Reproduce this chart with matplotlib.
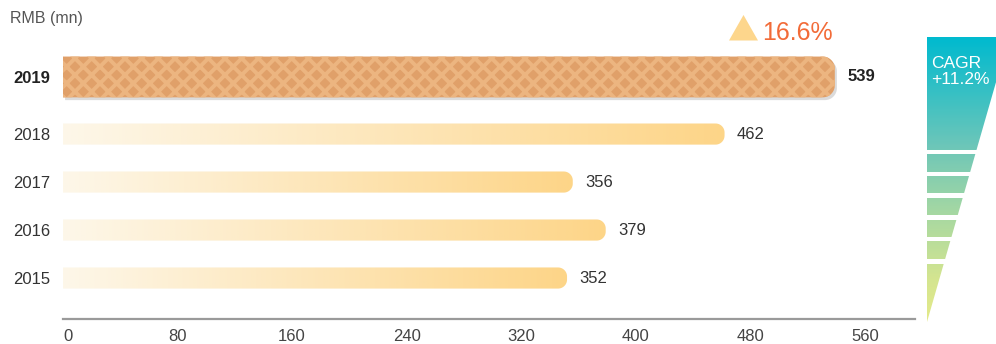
import numpy as np
import matplotlib
matplotlib.use('Agg')
import matplotlib.pyplot as plt
from matplotlib.path import Path
from matplotlib.patches import PathPatch, Polygon
from matplotlib.colors import LinearSegmentedColormap
from matplotlib.transforms import ScaledTranslation

# data
years = ['2015', '2016', '2017', '2018', '2019']
values = [352, 379, 356, 462, 539]
xticks = [0, 80, 160, 240, 320, 400, 480, 560]
unit_label = 'RMB (mn)'
growth_label = '16.6%'
cagr_label = 'CAGR\n+11.2%'

plt.rcParams['font.family'] = ['Liberation Sans', 'DejaVu Sans']
plt.rcParams['hatch.linewidth'] = 2.8

W, H = 996, 344
fig = plt.figure(figsize=(W / 100, H / 100), dpi=100)

# main axes placed in pixel terms
ax_l, ax_r, ax_t, ax_b = 63, 915, 40, 319
ax = fig.add_axes([ax_l / W, (H - ax_b) / H, (ax_r - ax_l) / W, (ax_b - ax_t) / H])
xmax = 595
ylo, yhi = -0.854, 4.96
ypos = [0, 1, 2, 3, 4.19]
heights = [0.44, 0.44, 0.44, 0.44, 0.85]
radii = [9, 9, 9, 9, 12]

px_x = (ax_r - ax_l) / xmax
px_y = (ax_b - ax_t) / (yhi - ylo)


def bar_path(y, w, h, r):
    # square left end, rounded right end (radius given in pixels)
    rx, ry = r / px_x, r / px_y
    y0, y1 = y - h / 2, y + h / 2
    br = [(w - rx + rx * np.cos(a), y0 + ry + ry * np.sin(a))
          for a in np.linspace(-np.pi / 2, 0, 20)]
    tr = [(w - rx + rx * np.cos(a), y1 - ry + ry * np.sin(a))
          for a in np.linspace(0, np.pi / 2, 20)]
    pts = [(0, y0)] + br + tr + [(0, y1), (0, y0)]
    return Path(pts, closed=True)


cream = LinearSegmentedColormap.from_list('cream', ['#FDF7E9', '#FDD588'])

for i, (yr, v) in enumerate(zip(years, values)):
    y, h = ypos[i], heights[i]
    path = bar_path(y, v, h, radii[i])
    if yr == '2019':
        shadow = PathPatch(path, fc='#8a8a8a', ec='none', alpha=0.3, zorder=2,
                           transform=ax.transData + ScaledTranslation(1.5 / 72, -2.0 / 72, fig.dpi_scale_trans))
        ax.add_patch(shadow)
        waffle = PathPatch(path, fc='#E0A069', ec='#ECB580', lw=0, hatch='xx', zorder=3)
        ax.add_patch(waffle)
        ax.annotate(str(v), (v, y), xytext=(9, 0), textcoords='offset points',
                    va='center', ha='left', fontsize=12, color='#222222', fontweight='bold')
    else:
        clip = PathPatch(path, fc='none', ec='none')
        ax.add_patch(clip)
        im = ax.imshow(np.linspace(0, 1, 256)[None, :], cmap=cream, aspect='auto',
                       extent=(0, v, y - h / 2, y + h / 2), zorder=2)
        im.set_clip_path(clip)
        ax.annotate(str(v), (v, y), xytext=(9, 0), textcoords='offset points',
                    va='center', ha='left', fontsize=12, color='#333333')

ax.set_xlim(0, xmax)
ax.set_ylim(ylo, yhi)
ax.set_yticks(ypos, labels=years)
ax.set_xticks(xticks)
ax.tick_params(axis='y', length=0, pad=9.5, labelsize=12, colors='#333333')
ax.tick_params(axis='x', length=0, pad=7, labelsize=12, colors='#444444')
for lab in ax.get_yticklabels():
    if lab.get_text() == '2019':
        lab.set_fontweight('bold')
        lab.set_color('#222222')
ax.get_xticklabels()[0].set_horizontalalignment('left')
for s in ['top', 'right', 'left']:
    ax.spines[s].set_visible(False)
ax.spines['bottom'].set_color('#9a9a9a')
ax.spines['bottom'].set_linewidth(1.6)

# decoration layer in pixel coordinates
ov = fig.add_axes([0, 0, 1, 1], zorder=5)
ov.patch.set_alpha(0)

ov.text(10, 23.5, unit_label, fontsize=11.5, color='#555555', ha='left', va='baseline')

ov.add_patch(Polygon([(729, 40.5), (758, 40.5), (743.5, 15)], closed=True,
                     fc='#FDD68C', ec='none'))
ov.text(762, 40.5, growth_label, fontsize=18, color='#F26B38', ha='left', va='baseline')

# CAGR funnel
teal = LinearSegmentedColormap.from_list(
    'cagr', [(0, '#00BACF'), (0.38, '#6CC6B9'), (0.62, '#A6D8A2'), (0.85, '#D4E590'), (1, '#E4EA8A')])
funnel = Polygon([(927, 37), (1009, 37), (927, 322)], closed=True, fc='none', ec='none')
ov.add_patch(funnel)
fim = ov.imshow(np.linspace(0, 1, 256)[:, None], cmap=teal, aspect='auto',
                extent=(927, 1009, 322, 37), origin='upper')
fim.set_clip_path(funnel)
for g in [149.5, 171.7, 193.4, 215.1, 236.8, 259.0]:
    ov.fill_between([920, 1010], g, g + 4.5, color='white', lw=0)
ov.text(931, 56, cagr_label, fontsize=12.5, color='white', ha='left', va='top', linespacing=1.1)

ov.set_xlim(0, W)
ov.set_ylim(H, 0)
ov.axis('off')

fig.savefig('out.png', dpi=100)
